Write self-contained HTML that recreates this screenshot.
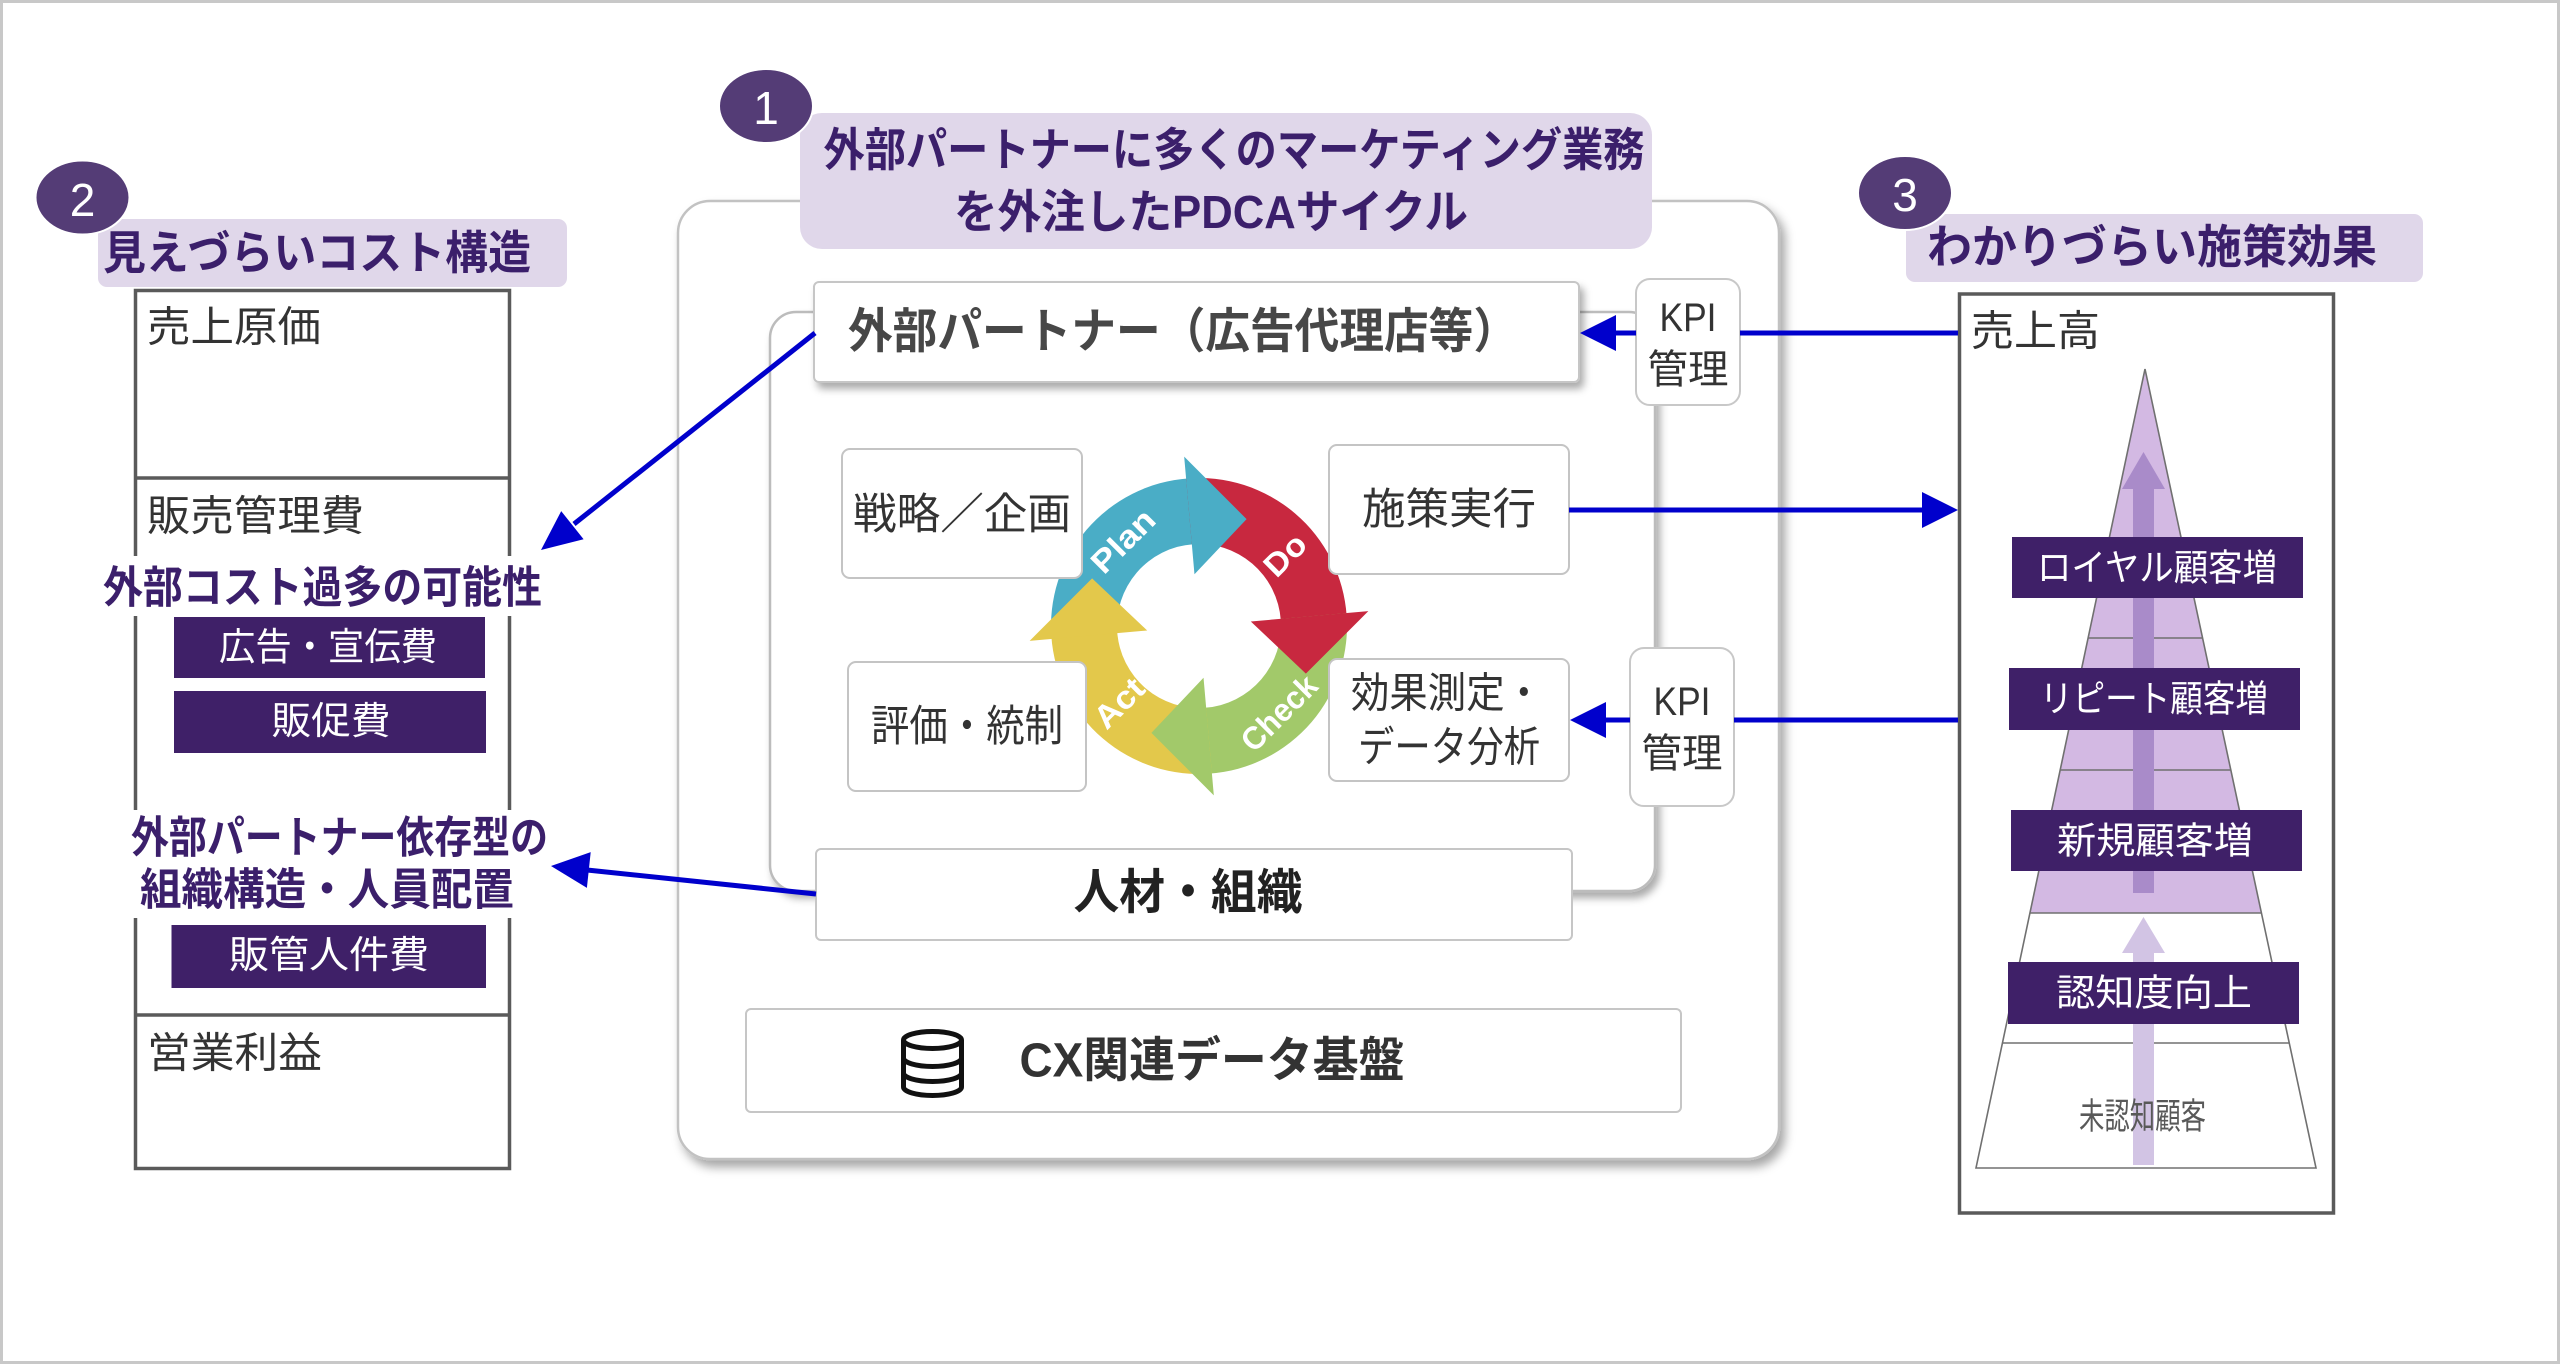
<!DOCTYPE html>
<html><head><meta charset="utf-8">
<style>
html,body{margin:0;padding:0;background:#fff;}
svg{display:block;}
text{font-family:"Liberation Sans","Noto Sans CJK JP",sans-serif;}
</style></head>
<body>
<svg width="2560" height="1364" viewBox="0 0 2560 1364" xmlns="http://www.w3.org/2000/svg">
<defs>
<filter id="s1" x="-5%" y="-5%" width="112%" height="115%"><feDropShadow dx="5" dy="7" stdDeviation="5" flood-color="#000" flood-opacity="0.35"/></filter>
<filter id="s2" x="-5%" y="-10%" width="112%" height="130%"><feDropShadow dx="4" dy="6" stdDeviation="4" flood-color="#000" flood-opacity="0.33"/></filter>
</defs>
<rect x="0" y="0" width="2560" height="1364" fill="#fff"/>
<rect x="1.5" y="1.5" width="2557" height="1361" fill="none" stroke="#c8c8c8" stroke-width="3"/>

<!-- ========== CENTER ========== -->
<rect x="678" y="201" width="1101" height="958" rx="32" fill="#fff" stroke="#c2c2c2" stroke-width="2.5" filter="url(#s1)"/>
<rect x="770" y="312" width="885" height="579" rx="26" fill="#fff" stroke="#bcbcbc" stroke-width="2.5" filter="url(#s2)"/>

<rect x="800" y="113" width="852" height="136" rx="22" fill="#e0d7ea"/>
<ellipse cx="766" cy="106" rx="47" ry="37" fill="#543c76" stroke="#fff" stroke-width="2"/>
<text x="766" y="108" text-anchor="middle" dominant-baseline="central" font-size="46" fill="#fff">1</text>
<text x="1234" y="150" text-anchor="middle" dominant-baseline="central" font-size="46" font-weight="bold" fill="#3b1f6b" textLength="821" lengthAdjust="spacingAndGlyphs">外部パートナーに多くのマーケティング業務</text>
<text x="1211" y="212" text-anchor="middle" dominant-baseline="central" font-size="46" font-weight="bold" fill="#3b1f6b" textLength="514" lengthAdjust="spacingAndGlyphs">を外注したPDCAサイクル</text>

<rect x="814" y="282" width="765" height="100" rx="5" fill="#fff" stroke="#c6c6c6" stroke-width="2" filter="url(#s2)"/>
<text x="1183" y="332" text-anchor="middle" dominant-baseline="central" font-size="48" font-weight="bold" fill="#474747" textLength="670" lengthAdjust="spacingAndGlyphs">外部パートナー（広告代理店等）</text>

<!-- KPI boxes -->
<rect x="1636" y="279" width="104" height="126" rx="14" fill="#fff" stroke="#c8c8c8" stroke-width="2"/>
<text x="1688" y="318" text-anchor="middle" dominant-baseline="central" font-size="40" fill="#333" textLength="57" lengthAdjust="spacingAndGlyphs">KPI</text>
<text x="1688" y="370" text-anchor="middle" dominant-baseline="central" font-size="40" fill="#333" textLength="81" lengthAdjust="spacingAndGlyphs">管理</text>
<rect x="1630" y="648" width="104" height="158" rx="14" fill="#fff" stroke="#c8c8c8" stroke-width="2"/>
<text x="1682" y="702" text-anchor="middle" dominant-baseline="central" font-size="40" fill="#333" textLength="57" lengthAdjust="spacingAndGlyphs">KPI</text>
<text x="1682" y="754" text-anchor="middle" dominant-baseline="central" font-size="40" fill="#333" textLength="81" lengthAdjust="spacingAndGlyphs">管理</text>

<!-- PDCA ring bodies -->
<path d="M1051.56,638.90 A148,148 0 0 1 1188.68,478.36 L1193.28,544.20 A82,82 0 0 0 1117.31,633.15 Z" fill="#4aadc6"/>
<path d="M1186.10,478.56 A148,148 0 0 1 1346.64,615.68 L1280.80,620.28 A82,82 0 0 0 1191.85,544.31 Z" fill="#c8283f"/>
<path d="M1346.44,613.10 A148,148 0 0 1 1209.32,773.64 L1204.72,707.80 A82,82 0 0 0 1280.69,618.85 Z" fill="#a2c96a"/>
<path d="M1211.90,773.44 A148,148 0 0 1 1051.36,636.32 L1117.20,631.72 A82,82 0 0 0 1206.15,707.69 Z" fill="#e3c84b"/>
<!-- heads -->
<polygon points="1194.47,574.20 1184.18,456.65 1246.59,519.11" fill="#4aadc6"/>
<polygon points="1250.80,621.47 1368.35,611.18 1305.89,673.59" fill="#c8283f"/>
<polygon points="1203.53,677.80 1213.82,795.35 1151.41,732.89" fill="#a2c96a"/>
<polygon points="1147.20,630.53 1029.65,640.82 1092.11,578.41" fill="#e3c84b"/>
<g font-weight="bold" font-size="32" fill="#fff">
<text transform="translate(1123,541) rotate(-45)" text-anchor="middle" dominant-baseline="central" textLength="76" lengthAdjust="spacingAndGlyphs">Plan</text>
<text transform="translate(1285,555) rotate(-45)" text-anchor="middle" dominant-baseline="central" textLength="46" lengthAdjust="spacingAndGlyphs">Do</text>
<text transform="translate(1279,713) rotate(-45)" text-anchor="middle" dominant-baseline="central" textLength="93" lengthAdjust="spacingAndGlyphs">Check</text>
<text transform="translate(1119,703) rotate(-45)" text-anchor="middle" dominant-baseline="central" textLength="57" lengthAdjust="spacingAndGlyphs">Act</text>
</g>

<!-- small boxes -->
<g fill="#fff" stroke="#c4c4c4" stroke-width="2">
<rect x="842" y="449" width="240" height="129" rx="8"/>
<rect x="1329" y="445" width="240" height="129" rx="8"/>
<rect x="848" y="662" width="238" height="129" rx="8"/>
<rect x="1329" y="659" width="240" height="122" rx="8"/>
</g>
<g fill="#333" text-anchor="middle" dominant-baseline="central">
<text x="962" y="515" font-size="43" textLength="218" lengthAdjust="spacingAndGlyphs">戦略／企画</text>
<text x="1449" y="510" font-size="43" textLength="174" lengthAdjust="spacingAndGlyphs">施策実行</text>
<text x="967" y="727" font-size="43" textLength="192" lengthAdjust="spacingAndGlyphs">評価・統制</text>
<text x="1447" y="693" font-size="42" textLength="192" lengthAdjust="spacingAndGlyphs">効果測定・</text>
<text x="1449" y="747" font-size="42" textLength="182" lengthAdjust="spacingAndGlyphs">データ分析</text>
</g>

<rect x="816" y="849" width="756" height="91" rx="5" fill="#fff" stroke="#c6c6c6" stroke-width="2"/>
<text x="1188" y="893" text-anchor="middle" dominant-baseline="central" font-size="48" font-weight="bold" fill="#222" textLength="229" lengthAdjust="spacingAndGlyphs">人材・組織</text>

<rect x="746" y="1009" width="935" height="103" rx="5" fill="#fff" stroke="#c6c6c6" stroke-width="2"/>
<g fill="none" stroke="#111" stroke-width="5">
<ellipse cx="932.5" cy="1040" rx="29" ry="8.5"/>
<path d="M903.5,1040 V1087 A29,8.5 0 0 0 961.5,1087 V1040"/>
<path d="M903.5,1058 A29,8.5 0 0 0 961.5,1058"/>
<path d="M903.5,1073 A29,8.5 0 0 0 961.5,1073"/>
</g>
<text x="1212" y="1061" text-anchor="middle" dominant-baseline="central" font-size="48" font-weight="bold" fill="#333" textLength="385" lengthAdjust="spacingAndGlyphs">CX関連データ基盤</text>

<!-- ========== LEFT ========== -->
<rect x="98" y="219" width="469" height="68" rx="9" fill="#e0d7ea"/>
<ellipse cx="82.5" cy="197.5" rx="47" ry="37" fill="#543c76" stroke="#fff" stroke-width="2"/>
<text x="82.5" y="200" text-anchor="middle" dominant-baseline="central" font-size="46" fill="#fff">2</text>
<text x="317" y="253" text-anchor="middle" dominant-baseline="central" font-size="46" font-weight="bold" fill="#3b1f6b" textLength="428" lengthAdjust="spacingAndGlyphs">見えづらいコスト構造</text>

<rect x="135.5" y="290.5" width="374" height="878" fill="none" stroke="#5a5a5a" stroke-width="3.5"/>
<line x1="135.5" y1="478" x2="509.5" y2="478" stroke="#5a5a5a" stroke-width="3.5"/>
<line x1="135.5" y1="1015" x2="509.5" y2="1015" stroke="#5a5a5a" stroke-width="3.5"/>
<g fill="#333" dominant-baseline="central">
<text x="147" y="327" font-size="42" textLength="174" lengthAdjust="spacingAndGlyphs">売上原価</text>
<text x="147" y="516" font-size="42" textLength="217" lengthAdjust="spacingAndGlyphs">販売管理費</text>
<text x="147" y="1053" font-size="42" textLength="175" lengthAdjust="spacingAndGlyphs">営業利益</text>
</g>
<rect x="101" y="556" width="446" height="60" fill="#fff"/>
<text x="322.5" y="588" text-anchor="middle" dominant-baseline="central" font-size="44" font-weight="bold" fill="#3b1f6b" textLength="439" lengthAdjust="spacingAndGlyphs">外部コスト過多の可能性</text>
<rect x="174" y="617" width="311" height="61" fill="#3f2068"/>
<rect x="174" y="691" width="312" height="62" fill="#3f2068"/>
<rect x="171.5" y="925" width="314.5" height="63" fill="#3f2068"/>
<g fill="#fff" text-anchor="middle" dominant-baseline="central" font-size="38">
<text x="328" y="648" textLength="218" lengthAdjust="spacingAndGlyphs">広告・宣伝費</text>
<text x="331" y="722" textLength="119" lengthAdjust="spacingAndGlyphs">販促費</text>
<text x="329" y="956" textLength="200" lengthAdjust="spacingAndGlyphs">販管人件費</text>
</g>
<rect x="126" y="810" width="426" height="108" fill="#fff"/>
<text x="339.5" y="838" text-anchor="middle" dominant-baseline="central" font-size="44" font-weight="bold" fill="#3b1f6b" textLength="417" lengthAdjust="spacingAndGlyphs">外部パートナー依存型の</text>
<text x="327" y="890" text-anchor="middle" dominant-baseline="central" font-size="44" font-weight="bold" fill="#3b1f6b" textLength="374" lengthAdjust="spacingAndGlyphs">組織構造・人員配置</text>

<!-- ========== RIGHT ========== -->
<rect x="1906" y="214" width="517" height="68" rx="9" fill="#e0d7ea"/>
<ellipse cx="1905" cy="193" rx="47" ry="37" fill="#543c76" stroke="#fff" stroke-width="2"/>
<text x="1905" y="195" text-anchor="middle" dominant-baseline="central" font-size="46" fill="#fff">3</text>
<text x="2152" y="247" text-anchor="middle" dominant-baseline="central" font-size="46" font-weight="bold" fill="#3b1f6b" textLength="450" lengthAdjust="spacingAndGlyphs">わかりづらい施策効果</text>

<rect x="1959.5" y="294" width="374" height="919" fill="#fff" stroke="#5a5a5a" stroke-width="3.5"/>
<text x="1971" y="331" dominant-baseline="central" font-size="42" fill="#333" textLength="129" lengthAdjust="spacingAndGlyphs">売上高</text>

<!-- pyramid -->
<polygon points="2145,369 2316,1168 1976,1168" fill="#fff"/>
<polygon points="2145,369 2261.4,913 2029.9,913" fill="#d3b9e3"/>
<g stroke="#707070" stroke-width="1.6" fill="none">
<line x1="2088.1" y1="638" x2="2202.6" y2="638"/>
<line x1="2060.2" y1="770" x2="2230.8" y2="770"/>
<line x1="2029.9" y1="913" x2="2261.4" y2="913"/>
<line x1="2002.4" y1="1043" x2="2289.2" y2="1043"/>
<polygon points="2145,369 2316,1168 1976,1168"/>
</g>
<polygon points="2143.5,452 2122,489 2165,489" fill="#a98bc9"/>
<rect x="2133" y="488" width="21" height="405" fill="#a98bc9"/>
<polygon points="2143.5,917 2122,953 2165,953" fill="#d2c4e4"/>
<rect x="2133" y="952" width="21" height="213" fill="#d2c4e4"/>
<text x="2142.5" y="1116" text-anchor="middle" dominant-baseline="central" font-size="36" fill="#595959" textLength="127" lengthAdjust="spacingAndGlyphs">未認知顧客</text>

<rect x="2012" y="537" width="291" height="61" fill="#3f2068"/>
<rect x="2009" y="668" width="291" height="62" fill="#3f2068"/>
<rect x="2011" y="810" width="291" height="61" fill="#3f2068"/>
<rect x="2008" y="962" width="291" height="62" fill="#3f2068"/>
<g fill="#fff" text-anchor="middle" dominant-baseline="central" font-size="37">
<text x="2157" y="568" textLength="240" lengthAdjust="spacingAndGlyphs">ロイヤル顧客増</text>
<text x="2154" y="699" textLength="228" lengthAdjust="spacingAndGlyphs">リピート顧客増</text>
<text x="2155" y="841" textLength="196" lengthAdjust="spacingAndGlyphs">新規顧客増</text>
<text x="2154" y="993" textLength="196" lengthAdjust="spacingAndGlyphs">認知度向上</text>
</g>

<!-- ========== BLUE ARROWS ========== -->
<g stroke="#0000cc" stroke-width="5" fill="none">
<line x1="1958" y1="333" x2="1740" y2="333"/>
<line x1="1636" y1="333" x2="1614" y2="333"/>
<line x1="1569" y1="510" x2="1924" y2="510"/>
<line x1="1958" y1="720" x2="1734" y2="720"/>
<line x1="1630" y1="720" x2="1604" y2="720"/>
<line x1="815" y1="333" x2="574" y2="524"/>
<line x1="816" y1="894" x2="587" y2="870"/>
</g>
<g fill="#0000cc">
<polygon points="1580,333 1616,315 1616,351"/>
<polygon points="1958,510 1922,492 1922,528"/>
<polygon points="1570,720 1606,702 1606,738"/>
<polygon points="541,550 583.6,539.3 561.2,511.1"/>
<polygon points="551,866 590.7,852.1 586.9,887.9"/>
</g>
</svg>
</body></html>
